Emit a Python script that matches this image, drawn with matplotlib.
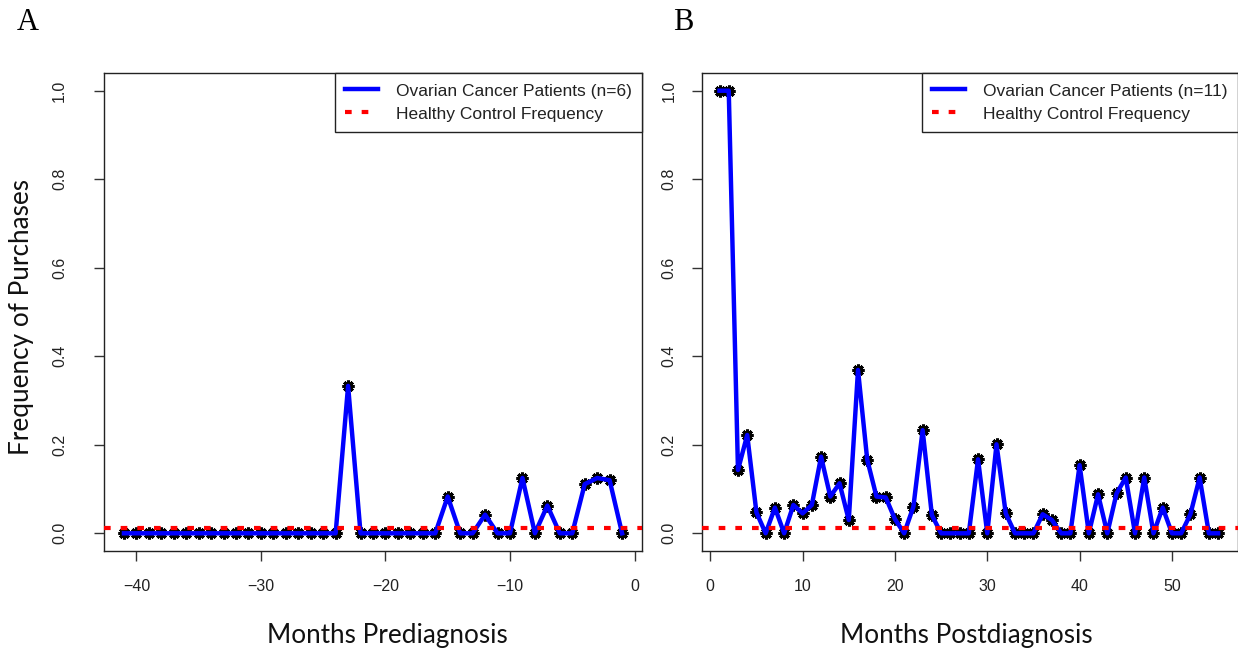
import matplotlib
matplotlib.use("Agg")
import matplotlib.pyplot as plt

# panel A: months before diagnosis
months_pre = list(range(-41, 0))
freq_pre = [0] * 18 + [0.333] + [0] * 7 + [0.083, 0, 0, 0.042, 0, 0, 0.125, 0,
            0.0625, 0, 0, 0.111, 0.125, 0.12, 0]

# panel B: months after diagnosis
months_post = list(range(1, 56))
freq_post = [1.0, 1.0, 0.143, 0.222, 0.047, 0, 0.058, 0, 0.064, 0.045,
             0.064, 0.173, 0.083, 0.113, 0.030, 0.369, 0.166, 0.083, 0.081, 0.032,
             0, 0.06, 0.233, 0.041, 0, 0, 0, 0, 0.167, 0,
             0.201, 0.045, 0, 0, 0, 0.043, 0.030, 0, 0, 0.154,
             0, 0.088, 0, 0.090, 0.126, 0, 0.126, 0, 0.058, 0,
             0, 0.043, 0.126, 0, 0]

control_freq = 0.011
yticks = [0.0, 0.2, 0.4, 0.6, 0.8, 1.0]
xticks_pre = [-40, -30, -20, -10, 0]
xticks_post = [0, 10, 20, 30, 40, 50]
label_pre = "Ovarian Cancer Patients (n=6)"
label_post = "Ovarian Cancer Patients (n=11)"
label_ctrl = "Healthy Control Frequency"

plt.rcParams['font.family'] = ['Liberation Sans', 'DejaVu Sans']

W, H = 1238, 650
fig = plt.figure(figsize=(W / 100, H / 100), dpi=100)


def panel(rect, x, y, xticks, xlim, label, ypad):
    ax = fig.add_axes(rect)
    ax.plot(x, y, linestyle='none', marker=(8, 2, 0), markersize=8.5,
            markeredgewidth=2.2, color='black', zorder=2)
    ax.plot(x, y, color='#0000ff', lw=3.2, label=label, zorder=3)
    ax.axhline(control_freq, color='red', lw=3, linestyle=(0, (1.6, 2.4)),
               label=label_ctrl, zorder=4)
    ax.set_xlim(*xlim)
    ax.set_ylim(-0.04, 1.04)
    ax.set_xticks(xticks)
    ax.set_yticks(yticks)
    ax.set_yticklabels(['%.1f' % v for v in yticks], rotation=90, va='center')
    ax.tick_params(axis='both', length=7, width=1, color='#333333',
                   labelsize=11.5, labelcolor='#222222')
    ax.tick_params(axis='x', pad=13.5)
    ax.tick_params(axis='y', pad=ypad)
    for s in ax.spines.values():
        s.set_linewidth(1)
        s.set_color('#222222')
    leg = ax.legend(loc='upper right', bbox_to_anchor=(1, 1), borderaxespad=0,
                    fontsize=12.5, handlelength=1.9, handletextpad=1.0,
                    labelspacing=0.45, borderpad=0.6, fancybox=False,
                    framealpha=1, edgecolor='#222222')
    leg.get_frame().set_linewidth(1)
    for t in leg.get_texts():
        t.set_color('#222222')
    return ax


panel([104 / W, 99 / H, 538 / W, 478 / H], months_pre, freq_pre,
      xticks_pre, (-42.6, 0.6), label_pre, 19.5)
panel([701.5 / W, 99 / H, 536 / W, 478 / H], months_post, freq_post,
      xticks_post, (-0.95, 57.1), label_post, 11)

# axis titles and panel letters
fig.text(387 / W, 1 - 636 / H, "Months Prediagnosis", family='Lato',
         fontsize=18.8, ha='center', va='center', color='#111111')
fig.text(966 / W, 1 - 636 / H, "Months Postdiagnosis", family='Lato',
         fontsize=18.8, ha='center', va='center', color='#111111')
fig.text(22 / W, 1 - 317 / H, "Frequency of Purchases", family='Lato',
         fontsize=18.8, rotation=90, ha='center', va='center', color='#111111')
fig.text(28 / W, 1 - 23 / H, "A", family='Liberation Serif', fontsize=22,
         ha='center', va='center')
fig.text(683 / W, 1 - 22 / H, "B", family='Liberation Serif', fontsize=22,
         ha='center', va='center')

fig.savefig("out.png", dpi=100)
